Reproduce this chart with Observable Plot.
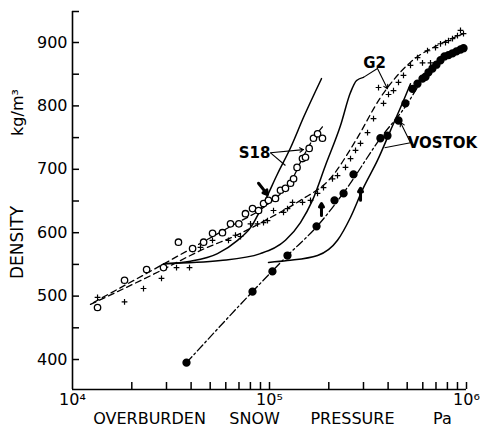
<!DOCTYPE html>
<html>
<head>
<meta charset="utf-8">
<script src="https://cdn.jsdelivr.net/npm/d3@7"></script>
<script src="https://cdn.jsdelivr.net/npm/@observablehq/plot@0.6"></script>
<style>
  html, body { margin: 0; padding: 0; background: #fff; }
  #chart svg { display: block; }
</style>
</head>
<body>
<div id="chart"></div>
<script>
// ---------- data (pressure in Pa, density in kg/m3) ----------
const s18P = [13400,18370,23780,28970,34500,40700,46300,51400,57700,63400,69900,75500,82000,88000,93300,98800,107200,113700,120500,127900,132500,138000,147000,152300,159000,167200,175400,185700];
const s18D = [482,525,542,545,585,575,585,599,600,614,614,630,638,635,646,651,654,667,670,678,685,703,717,719,733,749,756,749];

const g2P = [13400,18370,22930,28300,33730,39260,44640,51360,61930,67200,71270,80100,86940,93240,97680,104800,117800,123400,130900,147100,161500,175300,188000,208800,221400,243100,257800,273300,289700,314500,337300,357600,379100,401900,426000,451700,478800,519700,564000,597900,633900,656600,696000,738000,782300,810200,849000,900100,965600,932200];
const g2D = [498,491,512,528,545,545,577,588,588,596,594,614,614,616,619,635,632,638,648,648,651,662,671,685,690,703,717,730,741,758,780,829,804,818,824,837,848,864,876,868,887,868,892,898,900,903,906,911,914,919];

const vosP = [37900,82000,103500,123400,173300,213800,237700,266900,365600,397000,451600,490000,532000,563700,598000,619400,641500,671700,704000,738000,773000,810000,849000,889000,933000,966000];
const vosD = [395,507,539,564,610,651,662,692,749,753,777,804,827,835,843,846,853,859,865,872,878,880,883,886,889,891];

// smoothed fits through each series
const s18FitP = [12790,45710,63400,98840,130800,143600,161500,187900];
const s18FitD = [490,585,610,646,685,711,741,769];
const g2FitP = [12340,28000,44700,71300,101200,143600,204200,273600,365600,519800,738000,966000];
const g2FitD = [487,540,572,599,624,651,686,745,813,869,898,914];
const vosFitP = [37900,123400,175400,243000,365600,502300,584700,782000,966000];
const vosFitD = [395,564,611,667,749,804,837,878,891];

// model curves (solid)
const modelAP = [28970,39700,54450,68850,80100,93300,109900,127900,148900,183600];
const modelAD = [551,555,567,588,608,646,693,734,782,843];
const modelBP = [28970,56400,89900,120500,143600,165200,192300,229300,257600,276700,299900];
const modelBD = [551,556,567,588,616,651,706,769,821,840,845];
const modelCP = [98840,123400,175400,221400,257600,299900,353200,411100,478600,519800];
const modelCD = [553,556,564,588,624,671,714,761,808,835];

// heavy arrows marking transitions
const markArrows = [
  {p1: 87960, d1: 678, p2: 97700, d2: 660},
  {p1: 183600, d1: 627, p2: 183600, d2: 646},
  {p1: 289800, d1: 651, p2: 289800, d2: 670}
];

// labels and leaders
const seriesLabels = [
  {text: "S18", p: 84000, d: 726},
  {text: "G2", p: 341300, d: 867},
  {text: "VOSTOK", p: 755000, d: 741}
];
const leaderArrows = [
  {p1: 101200, d1: 726, p2: 148900, d2: 731},
  {p1: 353200, d1: 859, p2: 397000, d2: 827},
  {p1: 519800, d1: 742, p2: 462500, d2: 774}
];
const leaderLines = [
  {p1: 101200, d1: 726, p2: 120500, d2: 706},
  {p1: 353200, d1: 859, p2: 299900, d2: 845},
  {p1: 519800, d1: 742, p2: 383700, d2: 734}
];

// axes
const xDomain = [1e4, 1e6];
const yDomain = [352.7, 948.9];
const xMinorTicks = [2e4,3e4,4e4,5e4,6e4,7e4,8e4,9e4,1e5,2e5,3e5,4e5,5e5,6e5,7e5,8e5,9e5,1e6];
const xLabelTicks = [1e4, 1e5, 1e6];
const xLabelText = ["10⁴", "10⁵", "10⁶"];
const yMinorTicks = [400,450,500,550,600,650,700,750,800,850,900,948.9];
const yLabelTicks = [400,500,600,700,800,900];
const xTitleWords = [
  {text: "OVERBURDEN", p: 24600},
  {text: "SNOW", p: 84000},
  {text: "PRESSURE", p: 263800},
  {text: "Pa", p: 755000}
];
const yTitle = "DENSITY";
const yUnit = "kg/m³";

const zip = (P, D) => P.map((p, i) => ({p, d: D[i]}));
const s18 = zip(s18P, s18D), g2 = zip(g2P, g2D), vos = zip(vosP, vosD);

const font = "DejaVu Sans, sans-serif";
const TICK = 7;

const chart = Plot.plot({
  width: 485,
  height: 431,
  marginLeft: 72,
  marginRight: 19,
  marginTop: 11,
  marginBottom: 42,
  style: {background: "#fff", color: "#000", fontFamily: font},
  x: {type: "log", domain: xDomain, axis: null},
  y: {domain: yDomain, axis: null},
  marks: [
    // axis lines
    Plot.ruleX([xDomain[0]], {stroke: "#000", strokeWidth: 1.6}),
    Plot.ruleY([yDomain[0]], {stroke: "#000", strokeWidth: 1.6}),
    // inward ticks (outward ticks shifted inside the frame)
    Plot.axisY({ticks: yMinorTicks, tickSize: TICK, dx: TICK, tickFormat: () => "", label: null, strokeWidth: 1.5}),
    Plot.axisY({ticks: yLabelTicks, tickSize: 0, tickPadding: 5, label: null, fontSize: 16, tickFormat: d3.format("d")}),
    Plot.axisX({ticks: xMinorTicks, tickSize: TICK, dy: -TICK, tickFormat: () => "", label: null, strokeWidth: 1.5}),
    Plot.axisX({ticks: xLabelTicks, tickSize: 0, tickPadding: 4, label: null, fontSize: 16, tickFormat: d => xLabelText[xLabelTicks.indexOf(d)]}),
    // titles
    Plot.text([yTitle], {frameAnchor: "left", textAnchor: "middle", dx: -55, dy: 42, rotate: -90, fontSize: 17, text: d => d, fill: "#000", style: "letter-spacing:1px"}),
    Plot.text([yUnit], {frameAnchor: "left", textAnchor: "middle", dx: -55, dy: -88, rotate: -90, fontSize: 16, text: d => d, fill: "#000"}),
    Plot.text(xTitleWords, {x: "p", frameAnchor: "bottom", textAnchor: "middle", dy: 34, text: "text", fontSize: 16, fill: "#000"}),
    // model curves
    Plot.line(zip(modelAP, modelAD), {x: "p", y: "d", stroke: "#000", strokeWidth: 1.5, curve: "monotone-x"}),
    Plot.line(zip(modelBP, modelBD), {x: "p", y: "d", stroke: "#000", strokeWidth: 1.5, curve: "monotone-x"}),
    Plot.line(zip(modelCP, modelCD), {x: "p", y: "d", stroke: "#000", strokeWidth: 1.5, curve: "monotone-x"}),
    // fits
    Plot.line(zip(s18FitP, s18FitD), {x: "p", y: "d", stroke: "#000", strokeWidth: 1.3, strokeDasharray: "6,4", curve: "monotone-x"}),
    Plot.line(zip(g2FitP, g2FitD), {x: "p", y: "d", stroke: "#000", strokeWidth: 1.3, strokeDasharray: "6,4", curve: "monotone-x"}),
    Plot.line(zip(vosFitP, vosFitD), {x: "p", y: "d", stroke: "#000", strokeWidth: 1.3, strokeDasharray: "8,3,2,3", curve: "monotone-x"}),
    // data points
    Plot.dot(s18, {x: "p", y: "d", r: 3.2, stroke: "#000", strokeWidth: 1.3, fill: "#fff"}),
    Plot.dot(g2, {x: "p", y: "d", r: 2, symbol: "plus", stroke: "#000", strokeWidth: 1.2}),
    Plot.dot(vos, {x: "p", y: "d", r: 3.4, fill: "#000", stroke: "#000"}),
    // transition arrows
    Plot.arrow(markArrows, {x1: "p1", y1: "d1", x2: "p2", y2: "d2", stroke: "#000", strokeWidth: 3, headLength: 7}),
    // labels
    Plot.link(leaderLines, {x1: "p1", y1: "d1", x2: "p2", y2: "d2", stroke: "#000", strokeWidth: 1.1}),
    Plot.arrow(leaderArrows, {x1: "p1", y1: "d1", x2: "p2", y2: "d2", stroke: "#000", strokeWidth: 1.1, headLength: 6}),
    Plot.text(seriesLabels, {x: "p", y: "d", text: "text", textAnchor: "middle", fontSize: 15, fill: "#000", fontWeight: "bold"})
  ]
});
document.getElementById("chart").appendChild(chart);
</script>
</body>
</html>
